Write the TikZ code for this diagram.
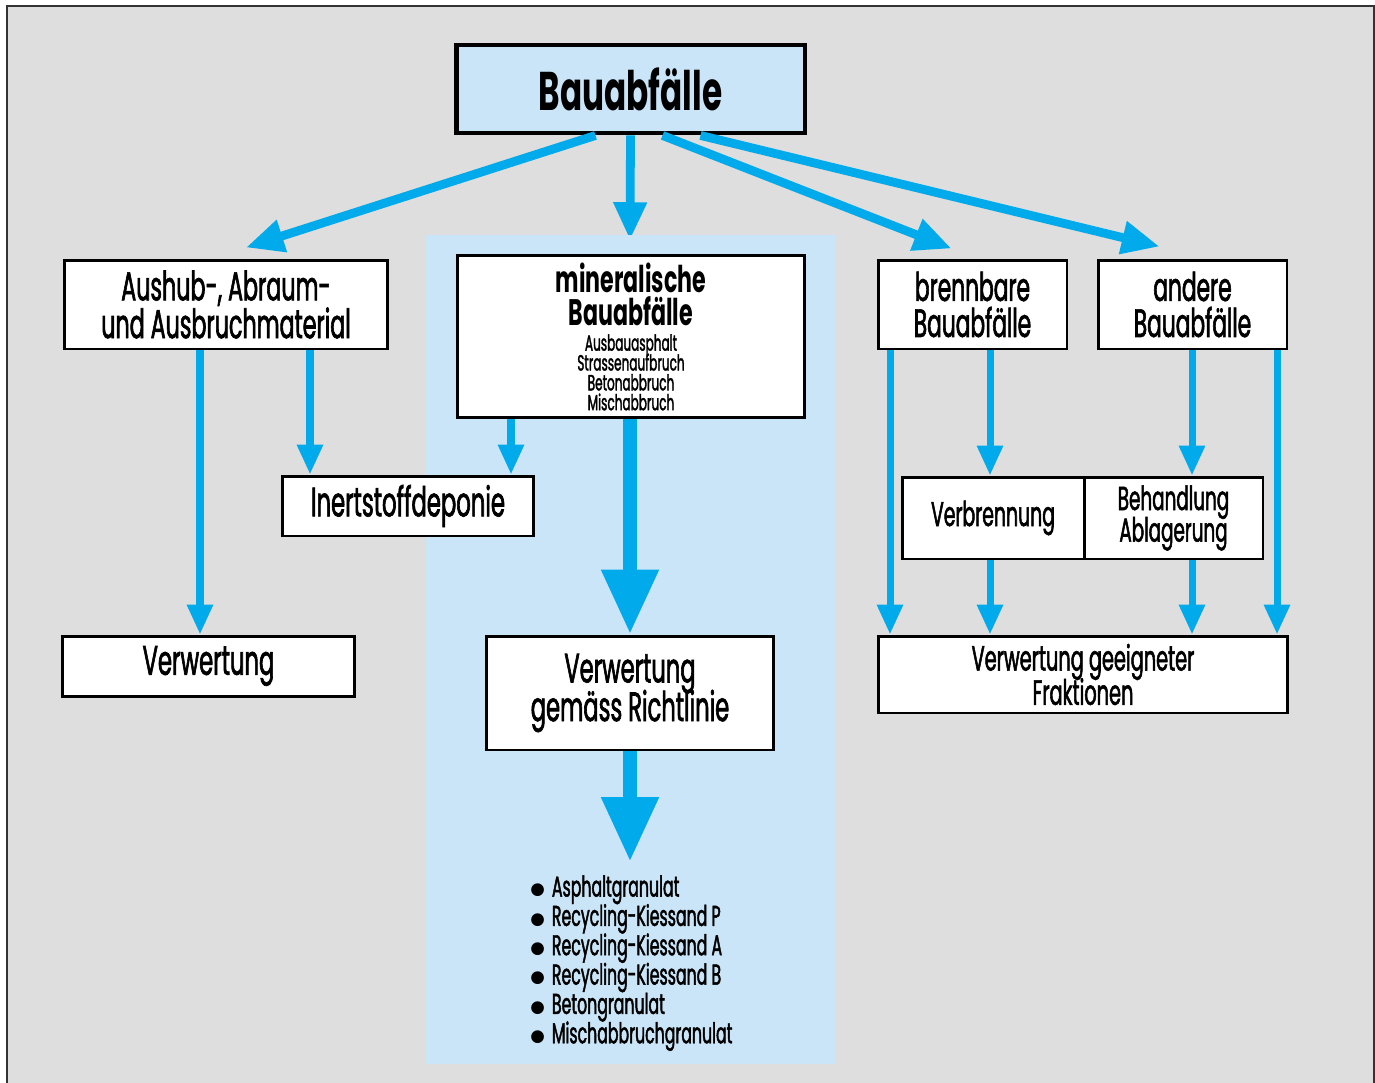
\documentclass[tikz,border=0pt]{standalone}
\usepackage{fontspec}
\setmainfont{Poppins}[FakeStretch=0.55, UprightFeatures={FakeBold=1.5}, BoldFeatures={FakeStretch=0.6}]
\newfontfamily\punktfont{DejaVu Sans}
\usetikzlibrary{arrows.meta, positioning, calc}
\definecolor{grauhg}{RGB}{222,222,222}
\definecolor{hellblau}{RGB}{201,229,247}
\definecolor{pfeilblau}{RGB}{0,170,235}
\newcommand{\punkt}{\raisebox{1pt}{\punktfont\fontsize{9.5}{10}\selectfont●}\hspace{4pt}}
\lineskiplimit=-20pt

\begin{document}
\begin{tikzpicture}[x=0.02cm, y=-0.02cm,
  box/.style={draw=black, fill=white, line width=1.7pt, inner sep=0pt, align=center},
  arr/.style={draw=pfeilblau, line width=4pt, -{Triangle[width=14pt, length=17pt]}},
  diag/.style={draw=pfeilblau, line width=5pt, -{Triangle[width=18pt, length=21.5pt]}},
  gross/.style={draw=pfeilblau, line width=8.5pt, -{Triangle[width=30.6pt, length=37pt]}}]
  \useasboundingbox (0,0) rectangle (1375,1082);
  \fill[grauhg, draw=black!80, line width=0.8pt] (7,6) rectangle (1374,1100);
  % Spalten fuer die senkrechten Pfeile
  \foreach \n/\x in {c1/200, c2/310, c3/511, c4/630, c5/890, c6/990, c7/1192, c8/1277} { \coordinate (\n) at (\x,0); }
  \coordinate (ptop) at (630,240);
  \coordinate (ltop) at (630,862);
  \node[box, fill=hellblau, line width=2.8pt, minimum width=6.98cm, minimum height=1.76cm, font=\fontsize{31}{30}\selectfont\bfseries] (bau) at (630.5,89) {Bauabfälle};
  \draw[diag] (bau.south) -- (ptop);
  \fill[hellblau] (426,235) rectangle (835,1064);
  \node[box, minimum width=6.48cm, minimum height=1.78cm, font=\fontsize{23}{21.5}\selectfont] (aushub) at (226,304.5) {Aushub-, Abraum-\\und Ausbruchmaterial};
  \node[box, minimum width=6.96cm, minimum height=3.26cm] (miner) at (631,336.5) {\begin{minipage}{6.5cm}\lineskiplimit=-20pt\centering\fontsize{21}{19}\selectfont\bfseries mineralische\\Bauabfälle\par\vspace{3pt}\fontsize{12.5}{11.3}\selectfont\mdseries Ausbauasphalt\\Strassenaufbruch\\Betonabbruch\\Mischabbruch\par\end{minipage}};
  \node[box, minimum width=3.78cm, minimum height=1.78cm, font=\fontsize{22.5}{20.5}\selectfont] (brenn) at (972.5,304.5) {brennbare\\Bauabfälle};
  \node[box, minimum width=3.78cm, minimum height=1.78cm, font=\fontsize{22.5}{20.5}\selectfont] (andere) at (1192.5,304.5) {andere\\Bauabfälle};
  \node[box, minimum width=5.04cm, minimum height=1.2cm, font=\fontsize{23.5}{22}\selectfont] (inert) at (408,506) {Inertstoffdeponie};
  \node[box, minimum width=5.86cm, minimum height=1.2cm, font=\fontsize{23.5}{22}\selectfont] (verwl) at (208.5,666) {Verwertung};
  \node[box, minimum width=5.76cm, minimum height=2.28cm, font=\fontsize{23.4}{22}\selectfont] (verwr) at (630,693) {Verwertung\\gemäss Richtlinie};
  \node[box, minimum width=3.64cm, minimum height=1.64cm, font=\fontsize{19.5}{19}\selectfont] (verbr) at (993,518) {Verbrennung};
  \node[box, minimum width=3.58cm, minimum height=1.64cm, font=\fontsize{19}{18}\selectfont] (behand) at (1173.5,518) {Behandlung\\Ablagerung};
  \node[box, minimum width=8.2cm, minimum height=1.54cm, font=\fontsize{20}{19.5}\selectfont] (frakt) at (1083,674.5) {Verwertung geeigneter\\Fraktionen};
  \node[anchor=north west, align=left, inner sep=0pt, font=\fontsize{16.3}{16.7}\selectfont] (liste) at (530,875) {\punkt Asphaltgranulat\\\punkt Recycling-Kiessand P\\\punkt Recycling-Kiessand A\\\punkt Recycling-Kiessand B\\\punkt Betongranulat\\\punkt Mischabbruchgranulat};
  \draw[diag] ($(bau.south)+(-35,0)$) -- ($(aushub.north)+(20,-11)$);
  \draw[diag] ($(bau.south)+(32,0)$) -- ($(brenn.north)+(-21,-10)$);
  \draw[diag] ($(bau.south)+(70,0)$) -- ($(andere.north)+(-33,-12)$);
  \draw[arr] (aushub.south -| c1) -- (verwl.north -| c1);
  \draw[arr] (aushub.south -| c2) -- (inert.north -| c2);
  \draw[arr] (miner.south -| c3) -- (inert.north -| c3);
  \draw[gross] (miner.south -| c4) -- (verwr.north);
  \draw[gross] (verwr.south) -- (ltop);
  \draw[arr] (brenn.south -| c5) -- (frakt.north -| c5);
  \draw[arr] (brenn.south -| c6) -- (verbr.north -| c6);
  \draw[arr] (andere.south -| c7) -- (behand.north -| c7);
  \draw[arr] (andere.south -| c8) -- (frakt.north -| c8);
  \draw[arr] (verbr.south -| c6) -- (frakt.north -| c6);
  \draw[arr] (behand.south -| c7) -- (frakt.north -| c7);
\end{tikzpicture}
\end{document}
